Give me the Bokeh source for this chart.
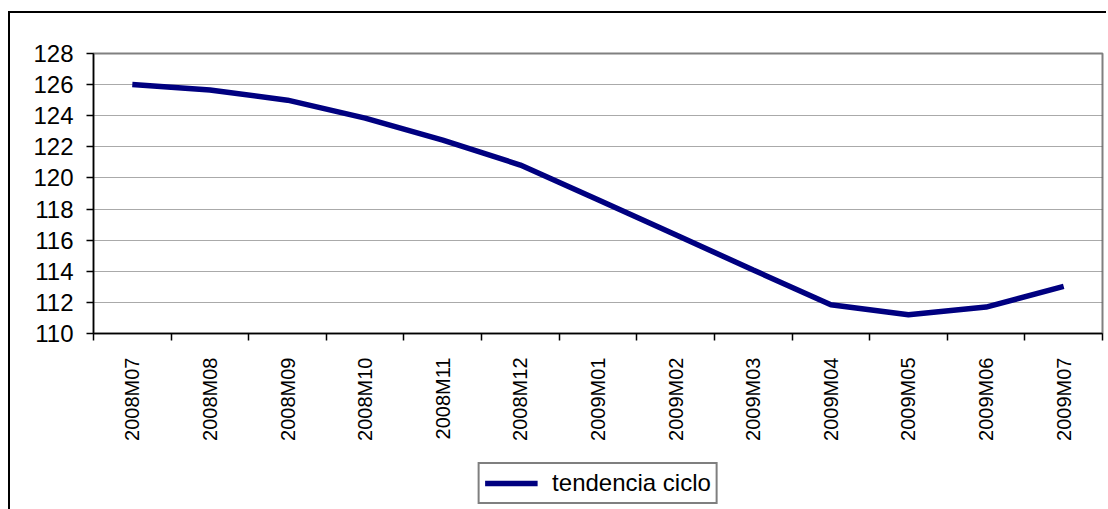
import math
from bokeh.plotting import figure
from bokeh.layouts import column
from bokeh.models import Range1d, FixedTicker, Legend, LegendItem
from bokeh.embed import file_html
from bokeh.resources import INLINE

months = ["2008M07", "2008M08", "2008M09", "2008M10", "2008M11", "2008M12",
          "2009M01", "2009M02", "2009M03", "2009M04", "2009M05", "2009M06", "2009M07"]
tendencia_ciclo = [126.0, 125.65, 125.0, 123.85, 122.43, 120.83, 118.6,
                   116.35, 114.08, 111.85, 111.2, 111.7, 113.03]
y_ticks = [110, 112, 114, 116, 118, 120, 122, 124, 126, 128]
series_name = "tendencia ciclo"

n = len(months)
xs = [i + 0.5 for i in range(n)]

FONT = "Liberation Sans"
NAVY = "#000080"

p = figure(width=1096, height=447, output_backend="svg", toolbar_location=None,
           x_range=Range1d(0, n), y_range=Range1d(110, 128),
           min_border_left=83, min_border_right=4, min_border_top=40,
           min_border_bottom=127)

p.background_fill_color = "white"
p.border_fill_color = "white"
p.outline_line_color = "#808080"
p.outline_line_width = 2

# y axis
p.yaxis.ticker = FixedTicker(ticks=y_ticks)
p.yaxis.axis_line_color = "black"
p.yaxis.axis_line_width = 1.5
p.yaxis.major_tick_line_width = 1.5
p.yaxis.major_tick_out = 7
p.yaxis.major_tick_in = 0
p.yaxis.minor_tick_line_color = None
p.yaxis.major_label_text_font = FONT
p.yaxis.major_label_text_font_size = "24px"
p.yaxis.major_label_text_color = "black"
p.yaxis.major_label_standoff = 13

# x axis
p.xaxis.ticker = FixedTicker(ticks=xs, minor_ticks=list(range(n + 1)))
p.xaxis.major_label_overrides = {x: m for x, m in zip(xs, months)}
p.xaxis.major_label_orientation = math.pi / 2
p.xaxis.major_tick_out = 0
p.xaxis.major_tick_in = 0
p.xaxis.minor_tick_out = 7
p.xaxis.minor_tick_in = 0
p.xaxis.minor_tick_line_width = 1.5
p.xaxis.minor_tick_line_color = "black"
p.xaxis.axis_line_color = "black"
p.xaxis.axis_line_width = 1.5
p.xaxis.major_label_text_font = FONT
p.xaxis.major_label_text_font_size = "20px"
p.xaxis.major_label_text_color = "black"
p.xaxis.major_label_standoff = 17

p.xgrid.grid_line_color = None
p.ygrid.ticker = FixedTicker(ticks=y_ticks)
p.ygrid.grid_line_color = "#555555"
p.ygrid.grid_line_dash = "1 1"
p.ygrid.grid_line_width = 1

p.line(xs, tendencia_ciclo, line_color=NAVY, line_width=5.5)

# legend strip below the chart (series drawn off-range; only its legend swatch shows)
pl = figure(width=1096, height=49, output_backend="svg", toolbar_location=None,
            x_axis_location=None, y_axis_location=None,
            min_border_left=83, min_border_right=4, min_border_top=0, min_border_bottom=0,
            x_range=Range1d(0, n), y_range=Range1d(0, 1))
pl.grid.grid_line_color = None
pl.outline_line_color = None
pl.background_fill_color = "white"
pl.border_fill_color = "white"
rl = pl.line(xs, tendencia_ciclo, line_color=NAVY, line_width=5.5)

legend = Legend(items=[LegendItem(label=series_name, renderers=[rl])],
                location="top_center")
legend.label_text_font = FONT
legend.label_text_font_size = "24px"
legend.label_text_color = "black"
legend.label_height = 24
legend.glyph_height = 20
legend.glyph_width = 53
legend.label_standoff = 15
legend.padding = 5
legend.spacing = 0
legend.margin = 2
legend.border_line_color = "black"
legend.border_line_width = 2
legend.background_fill_color = "white"
legend.background_fill_alpha = 1
pl.add_layout(legend, "center")

layout = column(p, pl, spacing=0)
layout.styles = {"border-left": "2px solid black", "border-top": "2px solid black"}
layout.margin = (11, 0, 0, 8)

open("out.html", "w").write(file_html(layout, INLINE))
